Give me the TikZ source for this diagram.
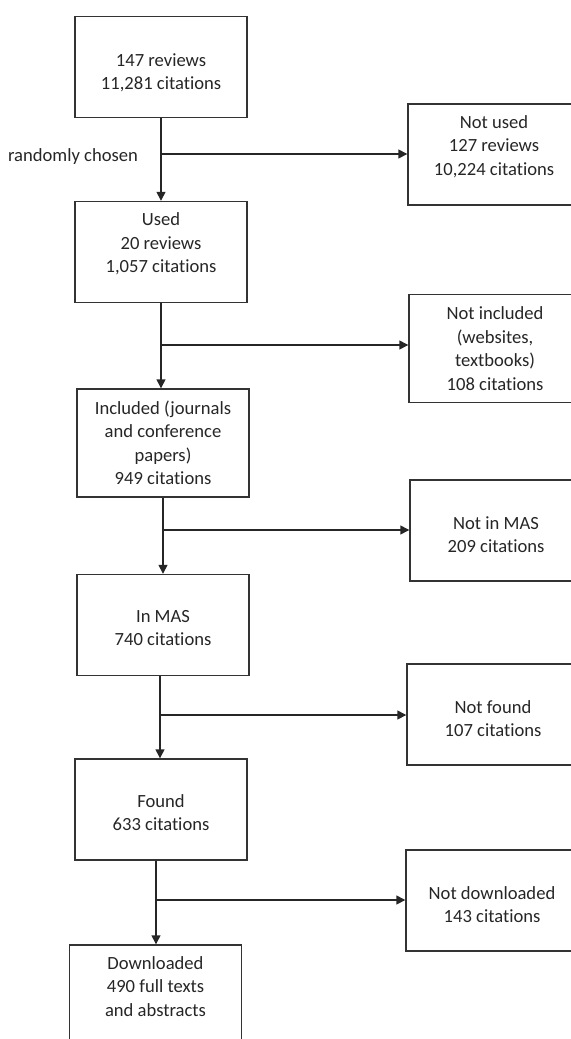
\documentclass[tikz,border=0pt]{standalone}
\usepackage{fontspec}
\setmainfont{Carlito}[Ligatures=NoCommon]
\usetikzlibrary{arrows.meta}
\tikzset{
  box/.style = {draw=black!80, line width=0.7pt, minimum width=86pt, minimum height=50.5pt, inner sep=0pt},
  tallbox/.style = {box, minimum height=54pt},
  boxtext/.style = {align=center, text=black!85, font=\fontsize{9.3}{11.75}\selectfont},
  flow/.style = {draw=black!85, line width=0.7pt},
}
\begin{document}
\begin{tikzpicture}[x=0.5pt, y=-0.5pt, >={Triangle[length=4.5pt,width=4.5pt]}]
  \clip (0,0) rectangle (571,1039);
  % main column
  \node[box, label={[boxtext,yshift=-3pt]center:147 reviews\\11,281 citations}] (reviews) at (161,67) {};
  \node[box, label={[boxtext,yshift=4pt]center:Used\\20 reviews\\1,057 citations}] (used) at (161,252) {};
  \node[tallbox, label={[boxtext]center:Included (journals\\and conference\\papers)\\949 citations}] (included) at (163,443) {};
  \node[box, label={[boxtext,yshift=-1.5pt]center:In MAS\\740 citations}] (inmas) at (163,625) {};
  \node[box, label={[boxtext,yshift=-1.5pt]center:Found\\633 citations}] (found) at (161,809.5) {};
  \node[box, label={[boxtext,yshift=4.5pt]center:Downloaded\\490 full texts\\and abstracts}] (downloaded) at (155.5,995.5) {};
  % excluded column
  \node[box, label={[boxtext,yshift=4pt]center:Not used\\127 reviews\\10,224 citations}] (notused) at (494,154.5) {};
  \node[tallbox, label={[boxtext]center:Not included\\(websites,\\textbooks)\\108 citations}] (notincl) at (495,348.5) {};
  \node[box, label={[boxtext,yshift=-2pt]center:Not in MAS\\209 citations}] (notmas) at (496,530.5) {};
  \node[box, label={[boxtext,yshift=-2pt]center:Not found\\107 citations}] (notfound) at (493,714.5) {};
  \node[box, label={[boxtext,yshift=-2pt]center:Not downloaded\\143 citations}] (notdl) at (492,900.5) {};
  \node[boxtext, anchor=east] (chosen) at (145,157) {randomly chosen};
  % branch points
  \coordinate (d1) at (reviews.south);
  \coordinate (d2) at (used.south);
  \coordinate (d3) at (included.south);
  \coordinate (d4) at ([xshift=-1.5pt]inmas.south);
  \coordinate (d5) at ([xshift=-2.5pt]found.south);
  \coordinate (j1) at (d1 |- 0,154);
  \coordinate (j2) at (d2 |- 0,345);
  \coordinate (j3) at (d3 |- 0,530);
  \coordinate (j4) at (d4 |- 0,715);
  \coordinate (j5) at (d5 |- 0,900);
  % connectors
  \draw[flow,->] (d1) -- (d1 |- used.north);
  \draw[flow,->] (d2) -- (d2 |- included.north);
  \draw[flow,->] (d3) -- (d3 |- inmas.north);
  \draw[flow,->] (d4) -- (d4 |- found.north);
  \draw[flow,->] (d5) -- (d5 |- downloaded.north);
  \draw[flow,->] (j1) -- (j1 -| notused.west);
  \draw[flow,->] (j2) -- (j2 -| notincl.west);
  \draw[flow,->] (j3) -- (j3 -| notmas.west);
  \draw[flow,->] (j4) -- (j4 -| notfound.west);
  \draw[flow,->] (j5) -- (j5 -| notdl.west);
\end{tikzpicture}
\end{document}
